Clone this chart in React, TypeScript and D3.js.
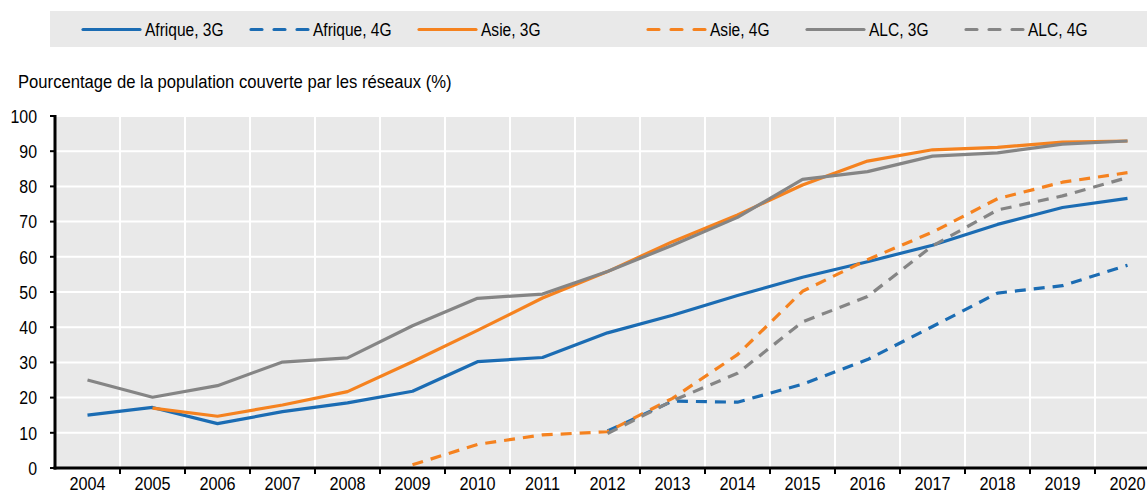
import React from "react";
import * as d3 from "d3";

// years on the x axis
const years = [
  "2004", "2005", "2006", "2007", "2008", "2009", "2010", "2011", "2012",
  "2013", "2014", "2015", "2016", "2017", "2018", "2019", "2020",
];
const yTicks = [0, 10, 20, 30, 40, 50, 60, 70, 80, 90, 100];

// values (null = no data)
const afrique3G = [15, 17.2, 12.6, 16, 18.5, 21.8, 30.2, 31.4, 38.4, 43.4, 49, 54.2, 58.6, 63.3, 69.2, 74, 76.6];
const afrique4G = [null, null, null, null, null, null, null, null, 10.5, 19, 18.7, 23.8, 30.8, 40.2, 49.7, 51.8, 57.6];
const asie3G = [null, 17, 14.7, 17.9, 21.7, 30.2, 39.1, 48.3, 55.8, 64.3, 71.9, 80.4, 87.2, 90.4, 91.1, 92.6, 92.9];
const asie4G = [null, null, null, null, null, 0.9, 6.7, 9.4, 10.3, 19.8, 32.2, 50.2, 59.2, 67, 76.5, 81.2, 83.9];
const alc3G = [25, 20.1, 23.4, 30.1, 31.3, 40.4, 48.2, 49.4, 55.8, 63.3, 71.2, 82, 84.2, 88.6, 89.5, 92, 92.9];
const alc4G = [null, null, null, null, null, null, null, null, 9.8, 19.1, 26.9, 41.5, 48.7, 63.1, 73.3, 77.3, 82.5];

const series = [
  { name: "Afrique, 3G", values: afrique3G, color: "#1B6CB3", dashed: false },
  { name: "Afrique, 4G", values: afrique4G, color: "#1B6CB3", dashed: true },
  { name: "Asie, 3G", values: asie3G, color: "#F5821F", dashed: false },
  { name: "Asie, 4G", values: asie4G, color: "#F5821F", dashed: true },
  { name: "ALC, 3G", values: alc3G, color: "#858585", dashed: false },
  { name: "ALC, 4G", values: alc4G, color: "#858585", dashed: true },
];

const W = 1147;
const H = 494;
const FONT = "'Liberation Sans', Arial, sans-serif";

// condensed-looking text: scale glyphs horizontally around the anchor
const Txt = ({ x, y, sx, anchor, size, children }: any) => (
  <text
    transform={`translate(${x},${y}) scale(${sx},1)`}
    fontSize={size || 18.5}
    textAnchor={anchor || "start"}
    fill="#000"
  >
    {children}
  </text>
);

export default function App() {
  const left = 55;
  const top = 116;
  const bottom = 468;

  const x = d3.scaleBand<string>().domain(years).range([left, 1160]).padding(0);
  const y = d3.scaleLinear().domain([0, 100]).range([bottom, top]);
  const cx = (i: number) => (x(years[i]) as number) + x.bandwidth() / 2;

  const line = d3
    .line<number | null>()
    .defined((d) => d !== null)
    .x((_, i) => cx(i))
    .y((d) => y(d as number));

  // legend line start positions
  const legendX = [82, 250, 418, 647, 806, 965];

  return (
    <svg
      width={W}
      height={H}
      style={{ position: "absolute", left: 0, top: 0, fontFamily: FONT }}
    >
      {/* legend */}
      <rect x={50} y={11} width={1097} height={36} fill="#e9e9e9" />
      {series.map((s, i) => (
        <g key={s.name}>
          <line
            x1={legendX[i] + 1}
            x2={legendX[i] + 58}
            y1={29.5}
            y2={29.5}
            stroke={s.color}
            strokeWidth={3.2}
            strokeDasharray={s.dashed ? "11,12" : undefined}
            strokeLinecap="round"
          />
          <Txt x={legendX[i] + 63} y={35.5} sx={0.84}>
            {s.name}
          </Txt>
        </g>
      ))}

      {/* y axis title */}
      <Txt x={18} y={88} sx={0.9}>
        Pourcentage de la population couverte par les réseaux (%)
      </Txt>

      {/* plot background */}
      <rect x={left} y={top} width={1160 - left} height={bottom - top} fill="#e9e9e9" />

      {/* grid */}
      {yTicks.slice(1).map((t) => (
        <line key={"gy" + t} x1={left} x2={W} y1={y(t)} y2={y(t)} stroke="#fff" strokeWidth={2} />
      ))}
      {years.slice(1).map((yr) => (
        <line
          key={"gx" + yr}
          x1={x(yr)}
          x2={x(yr)}
          y1={top}
          y2={bottom}
          stroke="#fff"
          strokeWidth={2}
        />
      ))}

      {/* series */}
      {series.map((s) => (
        <path
          key={s.name}
          d={line(s.values) || ""}
          fill="none"
          stroke={s.color}
          strokeWidth={3.2}
          strokeDasharray={s.dashed ? "11,8" : undefined}
          strokeLinejoin="round"
        />
      ))}

      {/* y axis */}
      <line x1={left} x2={left} y1={top - 1} y2={bottom + 1.5} stroke="#000" strokeWidth={3} />
      {yTicks.map((t) => (
        <g key={"ty" + t}>
          <line x1={left - 5} x2={left} y1={y(t)} y2={y(t)} stroke="#000" strokeWidth={2} />
          <Txt x={37} y={y(t) + 6.7} sx={0.86} anchor="end">
            {t}
          </Txt>
        </g>
      ))}

      {/* x axis */}
      <line x1={left - 1.5} x2={W} y1={bottom} y2={bottom} stroke="#000" strokeWidth={3} />
      {years.map((yr, i) => (
        <g key={"tx" + yr}>
          {i > 0 && (
            <line x1={x(yr)} x2={x(yr)} y1={bottom} y2={bottom + 6} stroke="#000" strokeWidth={2} />
          )}
          <Txt x={cx(i)} y={489.5} sx={0.9} size={18} anchor="middle">
            {yr}
          </Txt>
        </g>
      ))}
    </svg>
  );
}
